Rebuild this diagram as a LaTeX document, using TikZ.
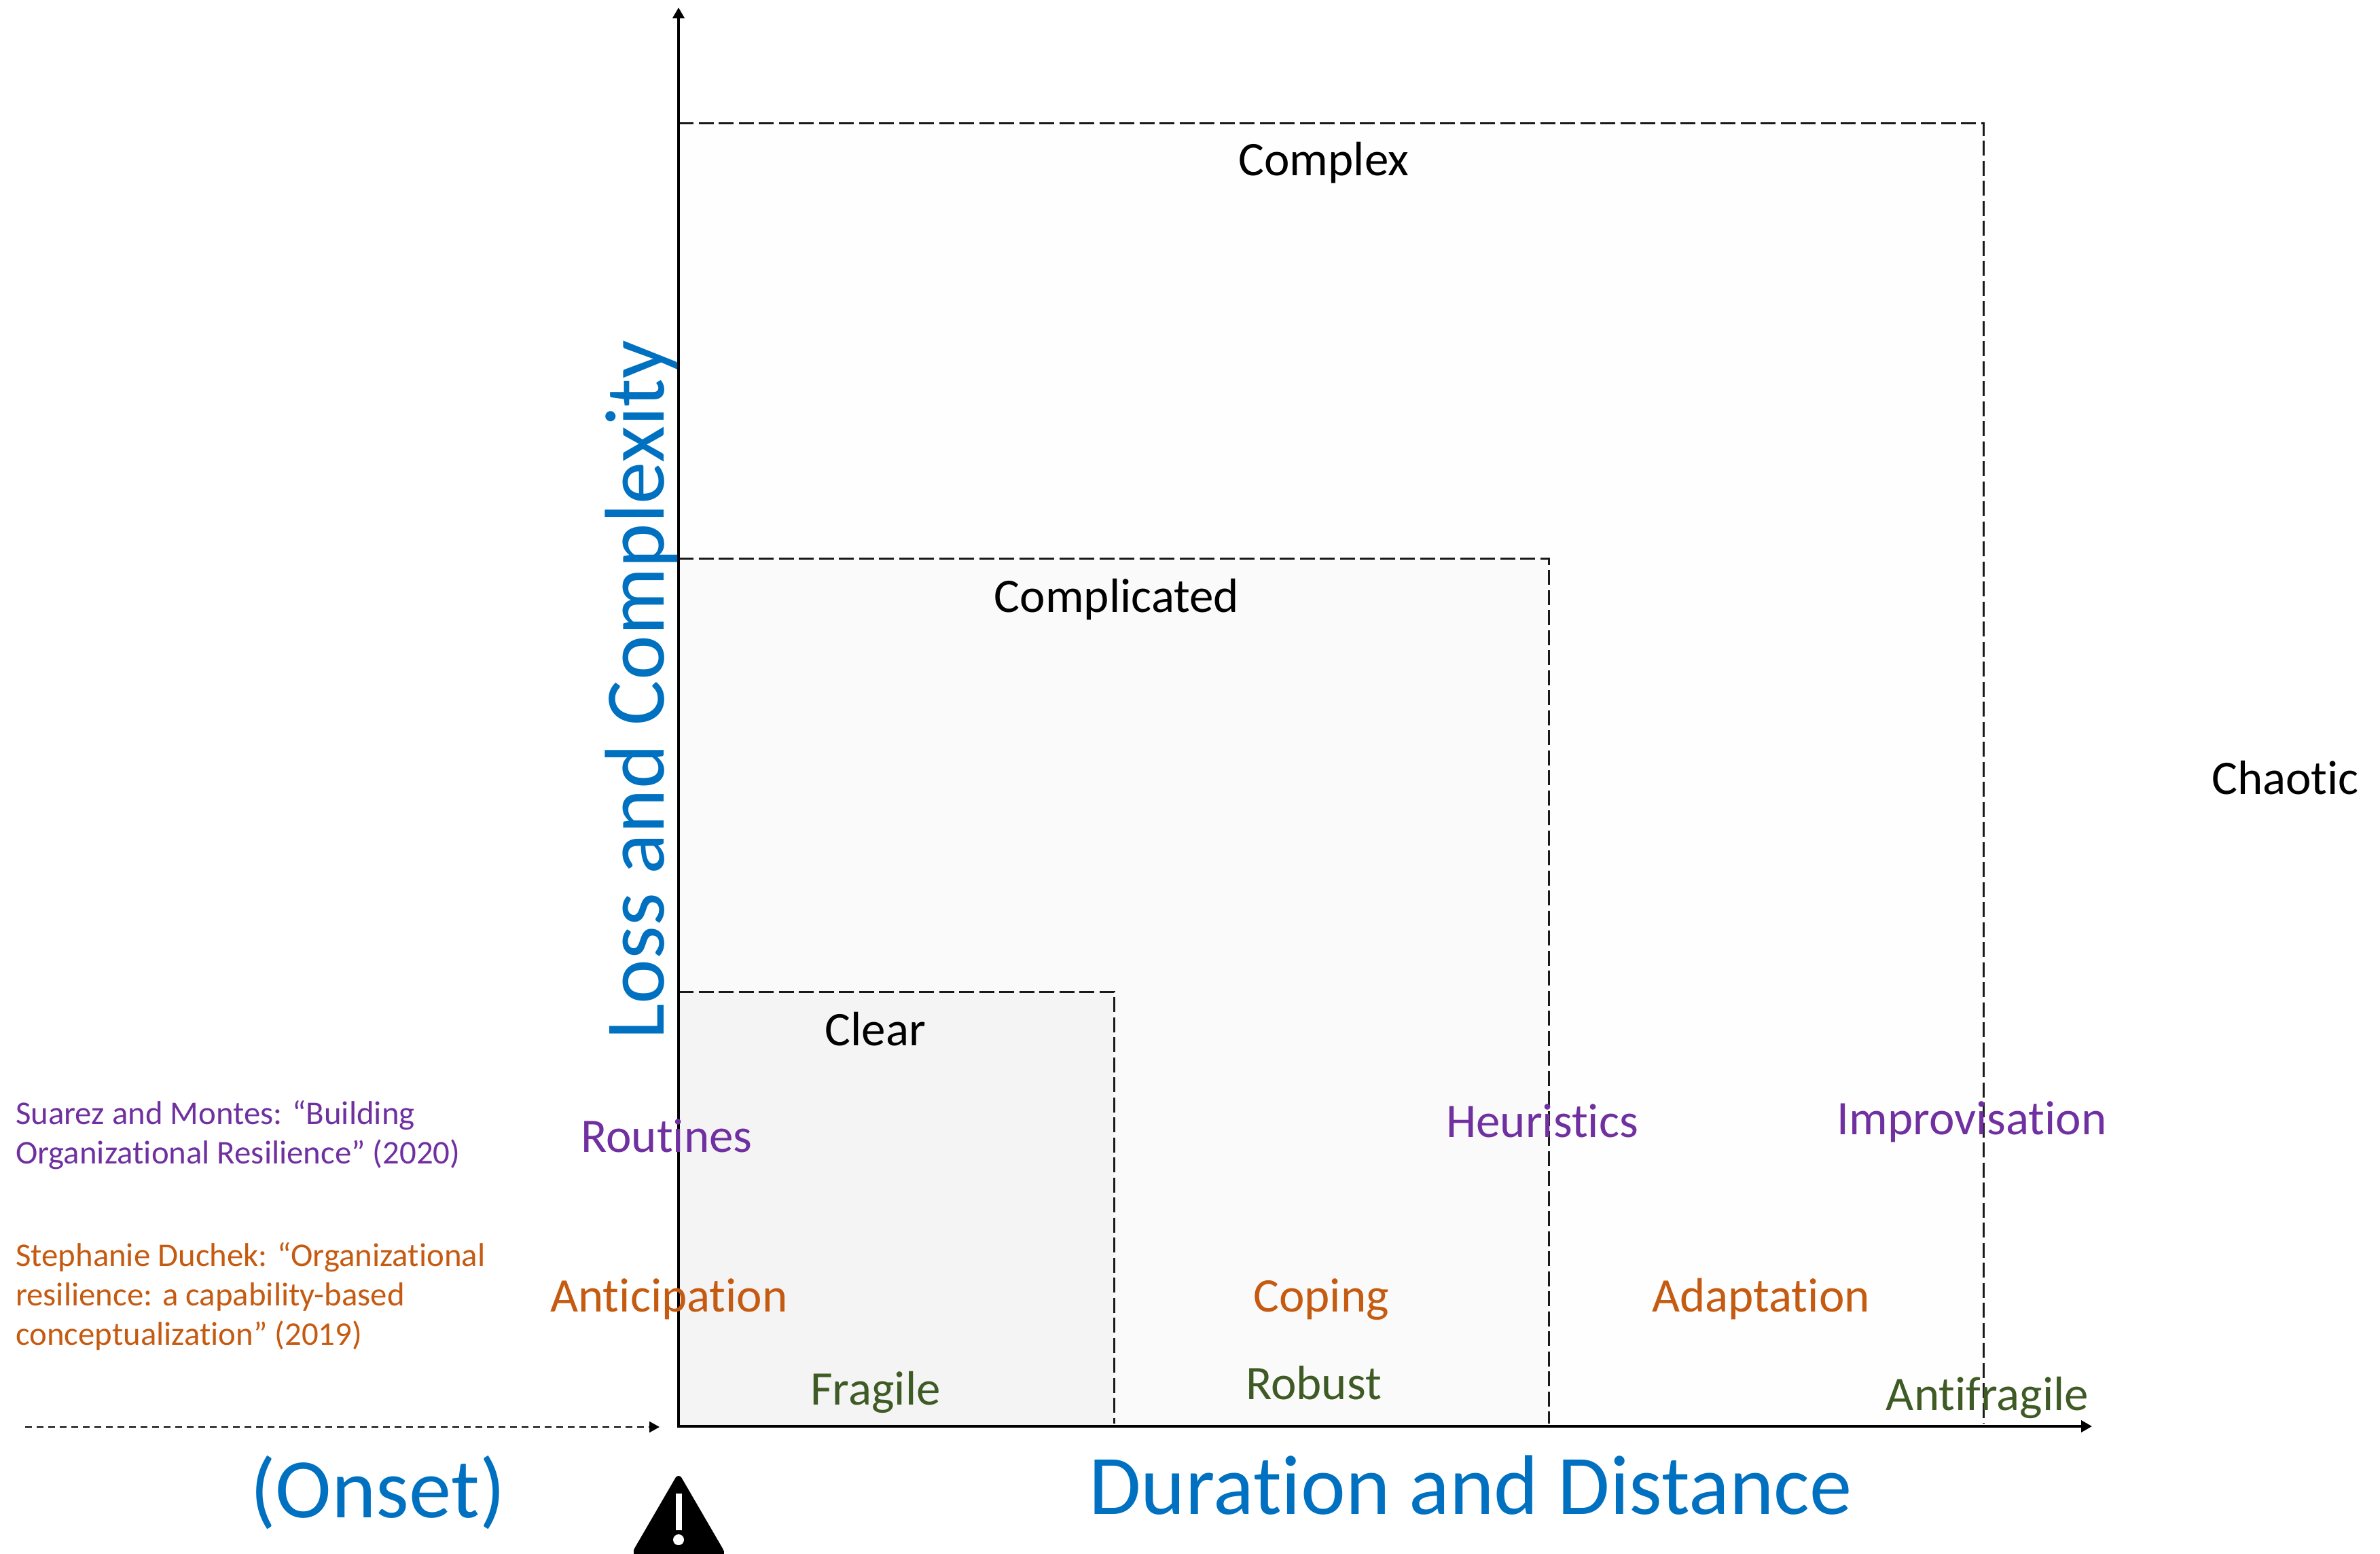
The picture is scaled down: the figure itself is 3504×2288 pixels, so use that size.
\documentclass[tikz,border=0pt]{standalone}
\usepackage{fontspec}
\setmainfont[Ligatures=CommonOff]{Carlito}
\usetikzlibrary{arrows.meta}
\definecolor{cPurple}{HTML}{7030A0}
\definecolor{cOrange}{HTML}{C55A11}
\definecolor{cGreen}{HTML}{3F5B25}
\definecolor{cBlue}{HTML}{0070C0}
\definecolor{cZoneA}{HTML}{FEFEFE}
\definecolor{cZoneB}{HTML}{FAFAFA}
\definecolor{cZoneC}{HTML}{F4F4F4}
\tikzset{
  x=1pt,y=-1pt,
  zone/.style={dash pattern=on 22pt off 7.5pt,line width=3pt,draw=black!90},
  onsetline/.style={line width=2.5pt,dash pattern=on 10pt off 7pt,-{Triangle[length=15pt,width=16pt]}},
  lab/.style={inner sep=0pt,anchor=base,font=\fontsize{71}{75}\selectfont},
  zonelab/.style={lab,text=black},
  ruelab/.style={lab,text=cPurple},
  duclab/.style={lab,text=cOrange},
  fraglab/.style={lab,text=cGreen},
  bluelab/.style={inner sep=0pt,text=cBlue,font=\fontsize{124.7}{129}\selectfont},
  srclab/.style={inner sep=0pt,anchor=north west,align=left,font=\fontsize{48.8}{58}\selectfont}
}
\begin{document}
\begin{tikzpicture}
\useasboundingbox (0,0) rectangle (3504,2288);
% zones
\fill[fill=cZoneA] (999,181) rectangle (2920,2100);
\fill[fill=cZoneB] (999,822) rectangle (2280,2100);
\fill[fill=cZoneC] (999,1460) rectangle (1640,2100);
\draw[zone] (999,181) -- (2920,181) -- (2920,2096);
\draw[zone] (999,822) -- (2280,822) -- (2280,2096);
\draw[zone] (999,1460) -- (1640,1460) -- (1640,2096);
% axes
\coordinate (origin) at (999,2100);
\coordinate (ytip) at (999,11);
\coordinate (xtip) at (3080,2100);
\coordinate (onsetstart) at (37,2101);
\coordinate (onsetend) at (971,2101);
\draw[line width=4.5pt,{Triangle[length=16pt,width=17pt]}-{Triangle[length=16pt,width=17pt]},line join=miter] (ytip) -- (origin) -- (xtip);
\draw[onsetline] (onsetstart) -- (onsetend);
% zone labels
\node[zonelab] (complex) at (1949,258) {Complex};
\node[zonelab] (complicated) at (1644,901) {Complicated};
\node[zonelab] (clear) at (1289,1539) {Clear};
\node[zonelab,anchor=base west] (chaotic) at (3256,1169) {Chaotic};
% purple
\node[ruelab] (routines) at (981.5,1696) {Routines};
\node[ruelab] (heuristics) at (2270.5,1674) {Heuristics};
\node[ruelab] (improv) at (2903,1670) {Improvisation};
% orange
\node[duclab] (anticip) at (985,1931) {Anticipation};
\node[duclab] (coping) at (1945,1931) {Coping};
\node[duclab] (adapt) at (2592.5,1931) {Adaptation};
% green
\node[fraglab] (fragile) at (1289,2068) {Fragile};
\node[fraglab] (robust) at (1934,2060) {Robust};
\node[fraglab] (antifragile) at (2926,2076) {Antifragile};
% sources
\node[srclab,text=cPurple] (suarez) at (23,1620) {Suarez and Montes: “Building\\Organizational Resilience” (2020)};
\node[srclab,text=cOrange] (duchek) at (23,1829) {Stephanie Duchek: “Organizational\\resilience: a capability-based\\conceptualization” (2019)};
% blue axis labels
\node[bluelab,anchor=base] (duration) at (2165,2229) {Duration and Distance};
\node[bluelab,anchor=base] (onset) at (556,2234) {(Onset)};
\node[bluelab,anchor=base west,rotate=90] (loss) at (977,1531) {Loss and Complexity};
% warning sign
\fill[line join=round,line width=10pt,draw=black] (999,2178) -- (938,2283) -- (1060,2283) -- cycle;
\fill (933,2283) rectangle (1066,2288);
\fill[white] (994.5,2199) rectangle (1004,2253);
\fill[white] (999,2267) circle (8pt);
\end{tikzpicture}
\end{document}
